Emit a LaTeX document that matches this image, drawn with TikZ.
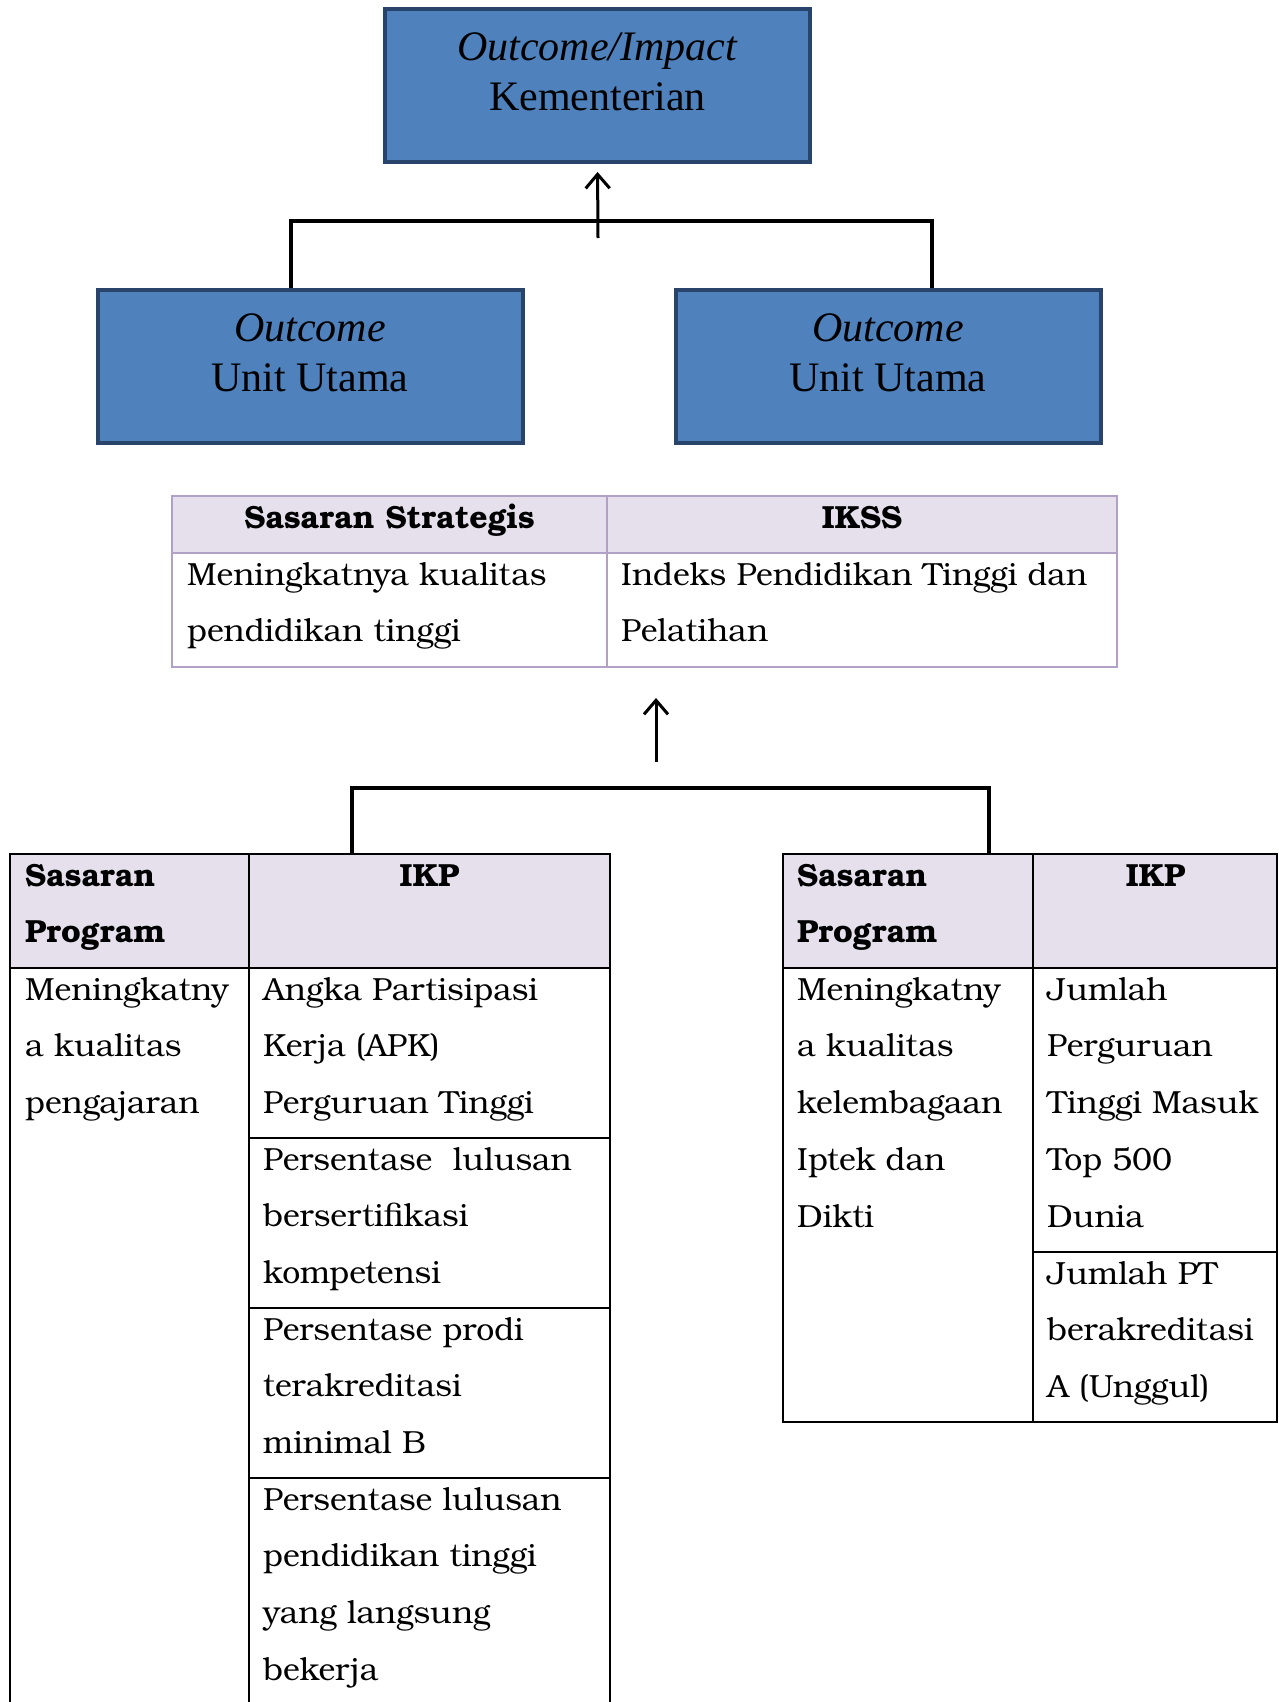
\documentclass[tikz,border=0pt]{standalone}
\usepackage{fontspec}
\setmainfont{Liberation Serif}
\newfontfamily\tabfont{TeX Gyre Bonum}
\usetikzlibrary{arrows.meta}
\usetikzlibrary{positioning}

\definecolor{boxblue}{HTML}{4F81BD}
\definecolor{boxedge}{HTML}{29446A}
\definecolor{headfill}{HTML}{E5E0EC}
\definecolor{lavender}{HTML}{B2A1C7}
\newcommand{\tstrut}{\rule{0pt}{32pt}}

\begin{document}
\begin{tikzpicture}[x=1pt,y=-1pt,
		outbox/.style={draw=boxedge, line width=4pt, fill=boxblue, minimum width=425pt, minimum height=153pt, inner sep=0pt},
		boxtext/.style={anchor=north, inner sep=0pt, align=center, font=\fontsize{42}{50}\selectfont},
		link/.style={line width=3.5pt},
		up/.style={line width=3pt, -{Straight Barb[length=14pt,width=24pt,line width=3pt]}},
		grid/.style={line width=2.5pt},
		softgrid/.style={line width=2.5pt, draw=lavender},
		cell/.style={anchor=north west, inner sep=0pt, align=left, font=\tabfont\fontsize{32}{56.7}\selectfont},
		headcell/.style={cell, anchor=north, align=center, font=\tabfont\bfseries\fontsize{32}{56.7}\selectfont},
		headleft/.style={cell, font=\tabfont\bfseries\fontsize{32}{56.7}\selectfont}]
		\useasboundingbox (0,0) rectangle (1279,1702);

		% outcome boxes
		\node[outbox] (kem) at (597.5,85.5) {};
		\node[boxtext, below=25pt of kem.north] (kemtext) {\textit{Outcome/Impact}\\Kementerian};
		\node[outbox] (uu1) at (310,366.5) {};
		\node[boxtext, below=25pt of uu1.north] (uu1text) {\textit{Outcome}\\Unit Utama};
		\node[outbox] (uu2) at (888,366.5) {};
		\node[boxtext, below=25pt of uu2.north] (uu2text) {\textit{Outcome}\\Unit Utama};

		\coordinate (a1) at (598,238);
		\draw[link] ([xshift=-19pt]uu1.north) -- ++(0,-67) -| ([xshift=44pt]uu2.north);
		\draw[up, shorten >=8pt] (a1) -- (kem.south);

		% sasaran strategis
		\fill[headfill] (172,496) rectangle (1117,553);
		\draw[softgrid] (172,496) rectangle (1117,667);
		\draw[softgrid] (172,553) -- (1117,553);
		\draw[softgrid] (607,496) -- (607,667);
		\node[headcell] (ss) at (389.5,496) {\tstrut Sasaran Strategis};
		\node[headcell] (ikss) at (862,496) {\tstrut IKSS};
		\node[cell] (ss1) at (187,553) {\tstrut Meningkatnya kualitas\\pendidikan tinggi};
		\node[cell] (ikss1) at (621,553) {\tstrut Indeks Pendidikan Tinggi dan\\Pelatihan};

		\coordinate (a2) at (656,762);
		\coordinate (a2t) at (656,698);
		\draw[up] (a2) -- (a2t);

		% sasaran program kiri
		\fill[headfill] (10,854) rectangle (610,968);
		\draw[grid] (10,1702) -- (10,854) -- (610,854) -- (610,1702);
		\draw[grid] (249,854) -- (249,1702);
		\draw[grid] (10,968) -- (610,968);
		\foreach \y in {1138,1308,1478}
			\draw[grid] (249,\y) -- (610,\y);
		\node[headleft] (sp1) at (25,854) {\tstrut Sasaran\\Program};
		\node[headcell] (ikp1) at (429.5,854) {\tstrut IKP};
		\node[cell] (sp1a) at (25,968) {\tstrut Meningkatny\\a kualitas\\pengajaran};
		\node[cell] (ikp1a) at (263,968) {\tstrut Angka Partisipasi\\Kerja (APK)\\Perguruan Tinggi};
		\node[cell] (ikp1b) at (263,1138) {\tstrut Persentase\ \ lulusan\\bersertifikasi\\kompetensi};
		\node[cell] (ikp1c) at (263,1308) {\tstrut Persentase prodi\\terakreditasi\\minimal B};
		\node[cell] (ikp1d) at (263,1478) {\tstrut Persentase lulusan\\pendidikan tinggi\\yang langsung\\bekerja};

		% sasaran program kanan
		\fill[headfill] (783,854) rectangle (1277,968);
		\draw[grid] (783,854) rectangle (1277,1422);
		\draw[grid] (1033,854) -- (1033,1422);
		\draw[grid] (783,968) -- (1277,968);
		\draw[grid] (1033,1252) -- (1277,1252);
		\node[headleft] (sp2) at (797,854) {\tstrut Sasaran\\Program};
		\node[headcell] (ikp2) at (1155.5,854) {\tstrut IKP};
		\node[cell] (sp2a) at (797,968) {\tstrut Meningkatny\\a kualitas\\kelembagaan\\Iptek dan\\Dikti};
		\node[cell] (ikp2a) at (1047,968) {\tstrut Jumlah\\Perguruan\\Tinggi Masuk\\Top 500\\Dunia};
		\node[cell] (ikp2b) at (1047,1252) {\tstrut Jumlah PT\\berakreditasi\\A (Unggul)};

		\coordinate (sp1top) at (352,854);
		\coordinate (sp2top) at (989,854);
		\draw[link] (sp1top) -- ++(0,-66) -| (sp2top);

		\end{tikzpicture}
\end{document}
